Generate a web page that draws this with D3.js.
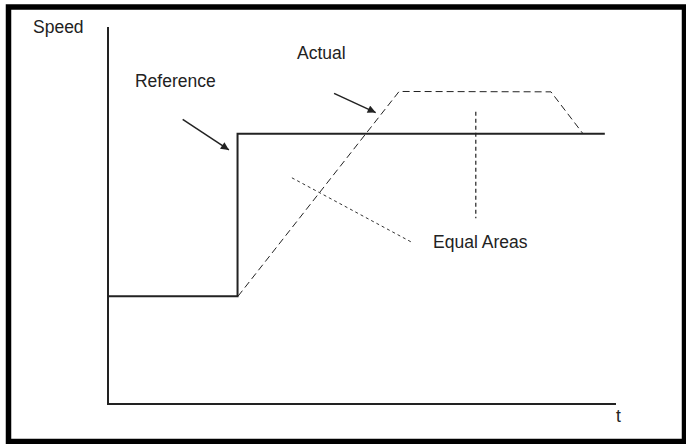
<!DOCTYPE html>
<html>
<head>
<meta charset="utf-8">
<script src="https://cdn.jsdelivr.net/npm/d3@7"></script>
<style>
    body { margin: 0; background: #fff; }
    svg { display: block; }
</style>
</head>
<body>
<div id="chart"></div>
<script>
// speed vs time, arbitrary units (0..100 on both axes)
const referencePts = [[0, 28.6], [25.5, 28.6], [25.5, 71.7], [97.8, 71.7]];
const actualPts = [[25.6, 28.6], [57.3, 82.9], [87.2, 82.8], [93.5, 71.7]];
const equalMarker = [[72.4, 77.5], [72.4, 49.3]];
const equalPointer = [[36.2, 60.0], [59.8, 42.9]];
const arrows = [
    {from: [14.7, 75.5], to: [23.8, 67.4]},
    {from: [44.5, 82.4], to: [52.7, 77.3]}
];
const labels = [
    {text: "Reference", pos: [5.3, 84.2]},
    {text: "Actual", pos: [37.2, 91.4]},
    {text: "Equal Areas", pos: [64.0, 41.4]}
];
const axisLabels = {y: "Speed", x: "t"};

const W = 686, H = 444;
const ink = "#222";

// plot area in pixels
const x = d3.scaleLinear().domain([0, 100]).range([108, 616]);
const y = d3.scaleLinear().domain([0, 100]).range([404, 27]);

const svg = d3.select("#chart").append("svg")
    .attr("width", W)
    .attr("height", H)
    .attr("font-family", "'Liberation Sans', Arial, sans-serif");

svg.append("defs").append("marker")
    .attr("id", "head")
    .attr("viewBox", "0 0 10 10")
    .attr("refX", 10)
    .attr("refY", 5)
    .attr("markerWidth", 9)
    .attr("markerHeight", 8)
    .attr("markerUnits", "userSpaceOnUse")
    .attr("orient", "auto")
    .append("path")
    .attr("d", "M0,0 L10,5 L0,10 Z")
    .attr("fill", ink);

// frame
svg.append("rect")
    .attr("x", 8.5).attr("y", 7)
    .attr("width", 676).attr("height", 434.5)
    .attr("fill", "none")
    .attr("stroke", "#000")
    .attr("stroke-width", 5.5);

const line = d3.line().x(d => x(d[0])).y(d => y(d[1]));

// axes (bare lines, no ticks)
svg.append("path")
    .attr("d", line([[0, 100], [0, 0], [100, 0]]))
    .attr("fill", "none")
    .attr("stroke", ink)
    .attr("stroke-width", 2);

svg.append("text")
    .attr("x", 33).attr("y", 33)
    .attr("font-size", 17.5)
    .attr("fill", ink)
    .text(axisLabels.y);

svg.append("text")
    .attr("x", 616).attr("y", 422)
    .attr("font-size", 17.5)
    .attr("fill", ink)
    .text(axisLabels.x);

// reference speed
svg.append("path")
    .attr("d", line(referencePts))
    .attr("fill", "none")
    .attr("stroke", ink)
    .attr("stroke-width", 2);

// actual speed
svg.append("path")
    .attr("d", line(actualPts))
    .attr("fill", "none")
    .attr("stroke", ink)
    .attr("stroke-width", 1)
    .attr("stroke-dasharray", "7,4");

// equal areas markers
svg.append("path")
    .attr("d", line(equalMarker))
    .attr("fill", "none")
    .attr("stroke", ink)
    .attr("stroke-width", 1.2)
    .attr("stroke-dasharray", "4,3");

svg.append("path")
    .attr("d", line(equalPointer))
    .attr("fill", "none")
    .attr("stroke", "#333")
    .attr("stroke-width", 1)
    .attr("stroke-dasharray", "3,3");

// arrows
svg.selectAll("line.arrow")
    .data(arrows)
    .join("line")
    .classed("arrow", true)
    .attr("x1", d => x(d.from[0]))
    .attr("y1", d => y(d.from[1]))
    .attr("x2", d => x(d.to[0]))
    .attr("y2", d => y(d.to[1]))
    .attr("stroke", ink)
    .attr("stroke-width", 1.5)
    .attr("marker-end", "url(#head)");

svg.selectAll("text.label")
    .data(labels)
    .join("text")
    .classed("label", true)
    .attr("x", d => x(d.pos[0]))
    .attr("y", d => y(d.pos[1]))
    .attr("font-size", 17.5)
    .attr("fill", ink)
    .text(d => d.text);
</script>
</body>
</html>
